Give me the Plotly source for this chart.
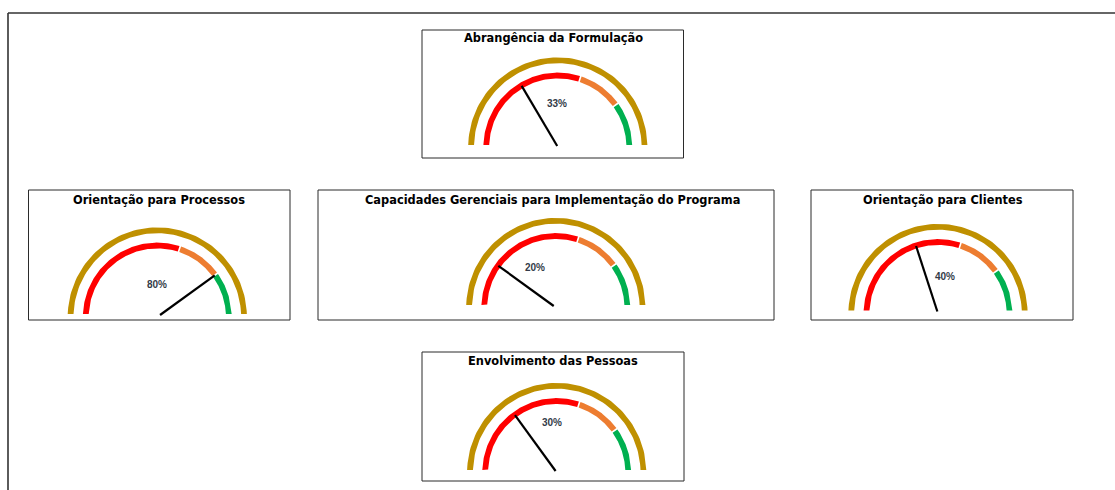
import numpy as np
import plotly.graph_objects as go

# ---- data -------------------------------------------------------------
titles = [
    "Abrangência da Formulação",
    "Orientação para Processos",
    "Capacidades Gerenciais para Implementação do Programa",
    "Orientação para Clientes",
    "Envolvimento das Pessoas",
]
values = [33, 80, 20, 40, 30]          # percent shown by each needle
band_limits = [0, 60, 80, 100]         # red / orange / green zones
band_colors = ["#FF0000", "#ED7D31", "#00B050"]
scale_max = 100

# ---- panel geometry (pixel units) --------------------------------------
W, H = 1115, 490
panels = [
    dict(box=(422, 30, 683.5, 158), cx=557.8, cy=147.0, base=145.0,
         title_xy=(553, 38), label_xy=(556.7, 103.3)),
    dict(box=(28.5, 190, 290, 320), cx=157.3, cy=317.0, base=314.0,
         title_xy=(159, 199.5), label_xy=(156.7, 284)),
    dict(box=(318, 190, 774, 320), cx=555.8, cy=307.5, base=305.0,
         title_xy=(552.5, 199.5), label_xy=(535, 267.7)),
    dict(box=(811, 190, 1073, 320), cx=938.0, cy=313.5, base=310.5,
         title_xy=(943, 199.5), label_xy=(945, 276.7)),
    dict(box=(422, 352, 684, 481), cx=556.7, cy=472.5, base=470.0,
         title_xy=(552.5, 360.5), label_xy=(552.3, 422)),
]

GOLD = "#BF9000"
RIM_R = (83.8, 89.6)      # outer gold rim
BAND_R = (68.6, 74.4)     # coloured zone band
NEEDLE_LEN = 71.0
GAP_DEG = 0.65            # half gap between coloured zones


def to_angle(v):
    """Value on the 0..scale_max scale -> angle in radians (left = pi)."""
    return np.pi * (1.0 - v / scale_max)


def band_polygon(cx, cy, base, r_in, r_out, a0, a1, n=90):
    t = np.linspace(a0, a1, n)
    xo, yo = cx + r_out * np.cos(t), cy - r_out * np.sin(t)
    xi, yi = cx + r_in * np.cos(t[::-1]), cy - r_in * np.sin(t[::-1])
    x = np.concatenate([xo, xi, xo[:1]])
    y = np.concatenate([yo, yi, yo[:1]])
    return x, np.minimum(y, base)


fig = go.Figure()

for p, title, val in zip(panels, titles, values):
    cx, cy, base = p["cx"], p["cy"], p["base"]

    # gold rim
    x, y = band_polygon(cx, cy, base, *RIM_R, to_angle(scale_max), to_angle(0))
    fig.add_trace(go.Scatter(x=x, y=y, fill="toself", fillcolor=GOLD,
                             mode="lines", line=dict(width=0),
                             hoverinfo="skip", showlegend=False))

    # coloured zones
    for i, col in enumerate(band_colors):
        lo, hi = band_limits[i], band_limits[i + 1]
        a_hi = to_angle(lo) - (np.radians(GAP_DEG) if lo > band_limits[0] else 0)
        a_lo = to_angle(hi) + (np.radians(GAP_DEG) if hi < band_limits[-1] else 0)
        x, y = band_polygon(cx, cy, base, *BAND_R, a_lo, a_hi)
        fig.add_trace(go.Scatter(x=x, y=y, fill="toself", fillcolor=col,
                                 mode="lines", line=dict(width=0),
                                 hoverinfo="skip", showlegend=False))

    # needle, starting where it crosses the clipping baseline
    a = to_angle(val)
    dx, dy = np.cos(a), -np.sin(a)
    s0 = (base + 1.0 - cy) / dy
    fig.add_trace(go.Scatter(
        x=[cx + s0 * dx, cx + NEEDLE_LEN * dx],
        y=[cy + s0 * dy, cy + NEEDLE_LEN * dy],
        mode="lines", line=dict(color="black", width=2.2),
        hoverinfo="skip", showlegend=False))

    # value label
    fig.add_annotation(x=p["label_xy"][0], y=p["label_xy"][1],
                       text=f"<b>{val}%</b>",
                       showarrow=False, xanchor="center", yanchor="middle",
                       font=dict(family="Liberation Sans", size=10,
                                 color="#333B48"))

    # panel title
    fig.add_annotation(x=p["title_xy"][0], y=p["title_xy"][1],
                       text=f"<b>{title}</b>", showarrow=False,
                       xanchor="center", yanchor="middle",
                       font=dict(family="DejaVu Sans", size=11.4,
                                 color="black"))

    # panel frame
    x0, y0, x1, y1 = p["box"]
    fig.add_shape(type="rect", xref="x", yref="y", x0=x0, y0=y0, x1=x1, y1=y1,
                  line=dict(color="#2B2B2B", width=1), layer="below")

# outer sheet frame (top and left edges)
fig.add_shape(type="line", xref="x", yref="y", x0=8, y0=13, x1=W, y1=13,
              line=dict(color="#333333", width=1.6))
fig.add_shape(type="line", xref="x", yref="y", x0=8, y0=13, x1=8, y1=H,
              line=dict(color="#333333", width=1.6))

fig.update_layout(
    width=W, height=H,
    margin=dict(l=0, r=0, t=0, b=0),
    paper_bgcolor="white", plot_bgcolor="white",
    xaxis=dict(range=[0, W], visible=False, fixedrange=True),
    yaxis=dict(range=[H, 0], visible=False, fixedrange=True),
    showlegend=False,
)

fig.write_html("out.html")
